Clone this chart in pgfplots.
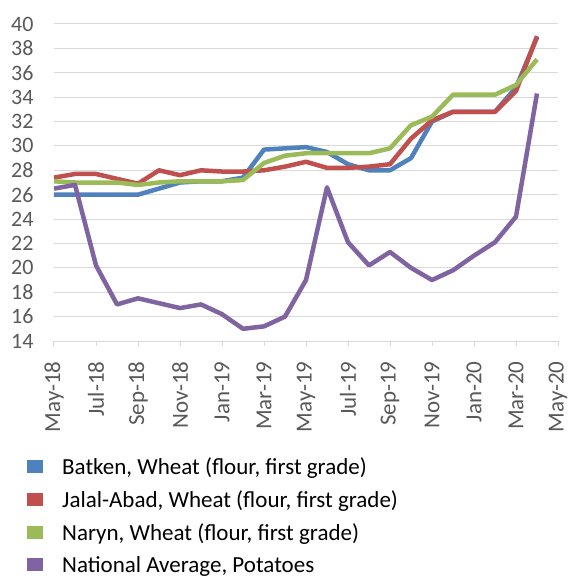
\documentclass[border=0pt]{standalone}
\usepackage{fontspec}
\setmainfont{Carlito}
\usepackage{pgfplots}
\pgfplotsset{compat=1.18}
\definecolor{xlBlue}{RGB}{79,129,189}
\definecolor{xlRed}{RGB}{192,80,77}
\definecolor{xlGreen}{RGB}{155,187,89}
\definecolor{xlPurple}{RGB}{128,100,162}
\definecolor{xlText}{RGB}{89,89,89}
\definecolor{xlGrid}{RGB}{217,217,217}

% monthly prices, May-18 = 0 ... Apr-20 = 23
\pgfplotstableread{
m batken jalal naryn potato
0  26.0 27.4 27.1 26.5
1  26.0 27.7 27.0 26.8
2  26.0 27.7 27.0 20.2
3  26.0 27.3 27.0 17.0
4  26.0 26.9 26.8 17.5
5  26.5 28.0 27.0 17.1
6  27.0 27.6 27.1 16.7
7  27.1 28.0 27.1 17.0
8  27.1 27.9 27.1 16.2
9  27.4 27.9 27.2 15.0
10 29.7 28.0 28.6 15.2
11 29.8 28.3 29.2 16.0
12 29.9 28.7 29.4 19.0
13 29.5 28.2 29.4 26.6
14 28.5 28.2 29.4 22.1
15 28.0 28.3 29.4 20.2
16 28.0 28.5 29.8 21.3
17 29.0 30.6 31.7 20.0
18 32.0 32.1 32.4 19.0
19 32.8 32.8 34.2 19.8
20 32.8 32.8 34.2 21.0
21 32.8 32.8 34.2 22.1
22 34.8 34.5 35.0 24.2
23 38.9 39.0 37.1 34.3
}\prices

\begin{document}
\begin{tikzpicture}[x=1pt,y=1pt]
\begin{axis}[
  at={(0,0)}, anchor=south west,
  scale only axis, width=504pt, height=317pt,
  xmin=0, xmax=24, ymin=14, ymax=40,
  xtick={0,2,...,24},
  xticklabels={May-18,Jul-18,Sep-18,Nov-18,Jan-19,Mar-19,May-19,Jul-19,Sep-19,Nov-19,Jan-20,Mar-20,May-20},
  ytick={14,16,...,40},
  /pgf/number format/assume math mode=true,
  x tick label style={rotate=90, anchor=east, font=\fontsize{23}{25}\selectfont, text=xlText},
  y tick label style={font=\fontsize{22}{24}\selectfont, text=xlText},
  xticklabel shift=12pt, yticklabel shift=12pt,
  axis lines*=left,
  x axis line style={xlGrid, line width=1pt},
  y axis line style={draw=none},
  ytick style={draw=none},
  xtick style={xlGrid, line width=1pt},
  tick align=outside, major tick length=5pt,
  ymajorgrids, grid style={xlGrid, line width=1pt},
  every axis plot/.append style={line width=4.5pt, line join=round, no markers},
  legend style={at={(axis description cs:-0.0536,-0.362)}, anchor=north west,
    draw=none, fill=none, inner sep=0pt, font=\fontsize{23}{25}\selectfont, row sep=10.5pt},
  legend cell align=left,
  legend image code/.code={\fill[#1, draw=none] (0pt,-6pt) rectangle (16pt,7pt);
    \path[draw=none, fill=none] (0pt,0pt) -- (33pt,0pt);},
]
\addplot[xlBlue] table[x=m, y=batken] {\prices};
\addlegendentry{Batken, Wheat (flour, first grade)}
\addplot[xlRed] table[x=m, y=jalal] {\prices};
\addlegendentry{Jalal-Abad, Wheat (flour, first grade)}
\addplot[xlGreen] table[x=m, y=naryn] {\prices};
\addlegendentry{Naryn, Wheat (flour, first grade)}
\addplot[xlPurple] table[x=m, y=potato] {\prices};
\addlegendentry{National Average, Potatoes}
\end{axis}
\pgfresetboundingbox
\path (-54,-242) rectangle (517,341);
\end{tikzpicture}
\end{document}
